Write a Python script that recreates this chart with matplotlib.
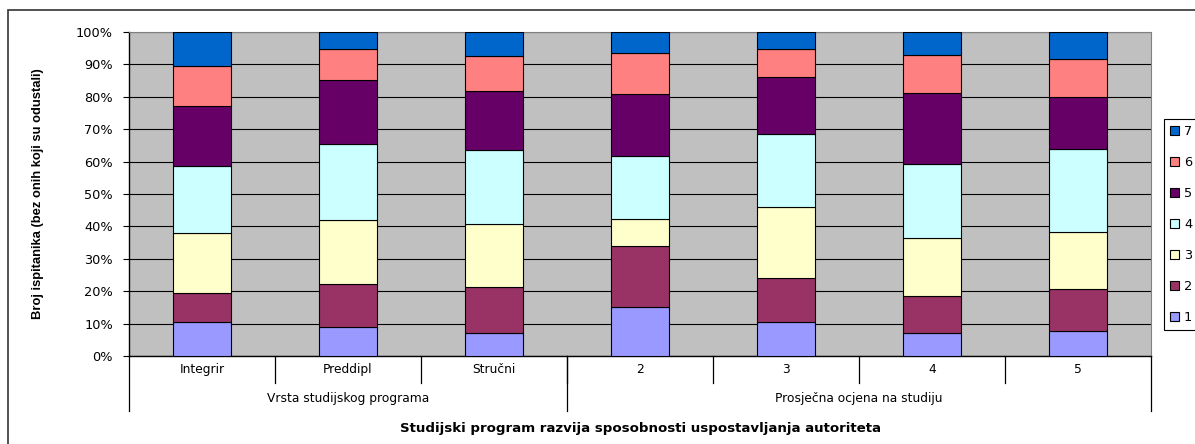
import matplotlib.pyplot as plt
import matplotlib.patches as mpatches
import numpy as np

# categories on the x axis and the two groups above them
categories = ['Integrir', 'Preddipl', 'Stručni', '2', '3', '4', '5']
groups = ['Vrsta studijskog programa', 'Prosječna ocjena na studiju']
group_sizes = [3, 4]

# share of answers (in %) for each rating, one value per category
levels = ['1', '2', '3', '4', '5', '6', '7']
r1 = [10.6, 9.0, 7.0, 15.0, 10.6, 7.2, 7.7]
r2 = [8.9, 13.2, 14.3, 19.1, 13.4, 11.3, 12.9]
r3 = [18.5, 19.7, 19.4, 8.3, 22.0, 17.8, 17.8]
r4 = [20.6, 23.6, 22.9, 19.3, 22.6, 23.1, 25.4]
r5 = [18.5, 19.8, 18.2, 19.1, 17.5, 21.8, 16.1]
r6 = [12.3, 9.6, 10.7, 12.8, 8.8, 11.6, 11.9]
r7 = [10.6, 5.1, 7.5, 6.4, 5.1, 7.2, 8.2]
series = [r1, r2, r3, r4, r5, r6, r7]

colors = ['#9999FF', '#993366', '#FFFFCC', '#CCFFFF', '#660066', '#FF8080', '#0066CC']

W, H = 1195, 444
fig = plt.figure(figsize=(W / 100, H / 100), dpi=100)
ax = fig.add_axes([129 / W, (H - 356) / H, (1151 - 129) / W, (356 - 32) / H])
ax.set_facecolor('#C0C0C0')

x = np.arange(len(categories))
bottom = np.zeros(len(categories))
handles = []
for vals, col, lab in zip(series, colors, levels):
    v = np.array(vals)
    v = v / 100.0
    ax.bar(x, v, 0.4, bottom=bottom, color=col, edgecolor='black', linewidth=0.8, zorder=3)
    bottom += v
    handles.append(mpatches.Rectangle((0, 0), 1, 1, facecolor=col, edgecolor='black', linewidth=0.8))

ax.set_xlim(-0.5, len(categories) - 0.5)
ax.set_ylim(0, 1)
ax.set_yticks(np.arange(0, 1.01, 0.1))
ax.set_yticklabels(['%d%%' % round(t * 100) for t in np.arange(0, 1.01, 0.1)],
                   fontsize=9.3, family='DejaVu Sans')
ax.tick_params(axis='y', direction='out', length=4.5, width=0.8, pad=7)
ax.set_xticks([])
ax.yaxis.grid(True, color='black', linewidth=0.8, zorder=1)
ax.set_axisbelow(True)
for s in ['top', 'right']:
    ax.spines[s].set_color('#808080')
for s in ['left', 'bottom']:
    ax.spines[s].set_color('black')
    ax.spines[s].set_linewidth(1)

# two-level category axis drawn by hand
tr = ax.get_xaxis_transform()
for i, c in enumerate(categories):
    ax.text(i, -0.043, c, transform=tr, ha='center', va='center', fontsize=8.8, family='DejaVu Sans')
for b in np.arange(0.5, len(categories) - 0.5):
    ax.plot([b, b], [0, -0.083], transform=tr, color='black', linewidth=0.9, clip_on=False)
start = -0.5
ax.plot([start, start], [0, -0.17], transform=tr, color='black', linewidth=0.9, clip_on=False)
for g, n in zip(groups, group_sizes):
    end = start + n
    ax.text((start + end) / 2, -0.13, g, transform=tr, ha='center', va='center',
            fontsize=8.8, family='DejaVu Sans')
    ax.plot([end, end], [0, -0.17], transform=tr, color='black', linewidth=0.9, clip_on=False)
    start = end

fig.text(640 / W, 1 - 428 / H, 'Studijski program razvija sposobnosti uspostavljanja autoriteta',
         ha='center', va='center', fontsize=9.6, fontweight='bold', family='DejaVu Sans')
fig.text(38 / W, 1 - 194 / H, 'Broj ispitanika (bez onih koji su odustali)', rotation=90,
         ha='center', va='center', fontsize=9.4, fontweight='bold', family='Liberation Sans')

leg = fig.legend(handles[::-1], levels[::-1], loc='upper left',
                 bbox_to_anchor=(1164 / W, 1 - 119 / H), fancybox=False, framealpha=1,
                 edgecolor='black', fontsize=9.3, handlelength=0.7, handleheight=0.7,
                 handletextpad=0.4, labelspacing=1.4, borderpad=0.45, borderaxespad=0)
leg.get_frame().set_linewidth(0.8)

# outer chart border
fig.patches.append(mpatches.Rectangle((8 / W, -0.1), 2, 1.1 - 10 / H, transform=fig.transFigure,
                                      fill=False, edgecolor='#333333', linewidth=1.2))

fig.savefig('out.png', dpi=100)
